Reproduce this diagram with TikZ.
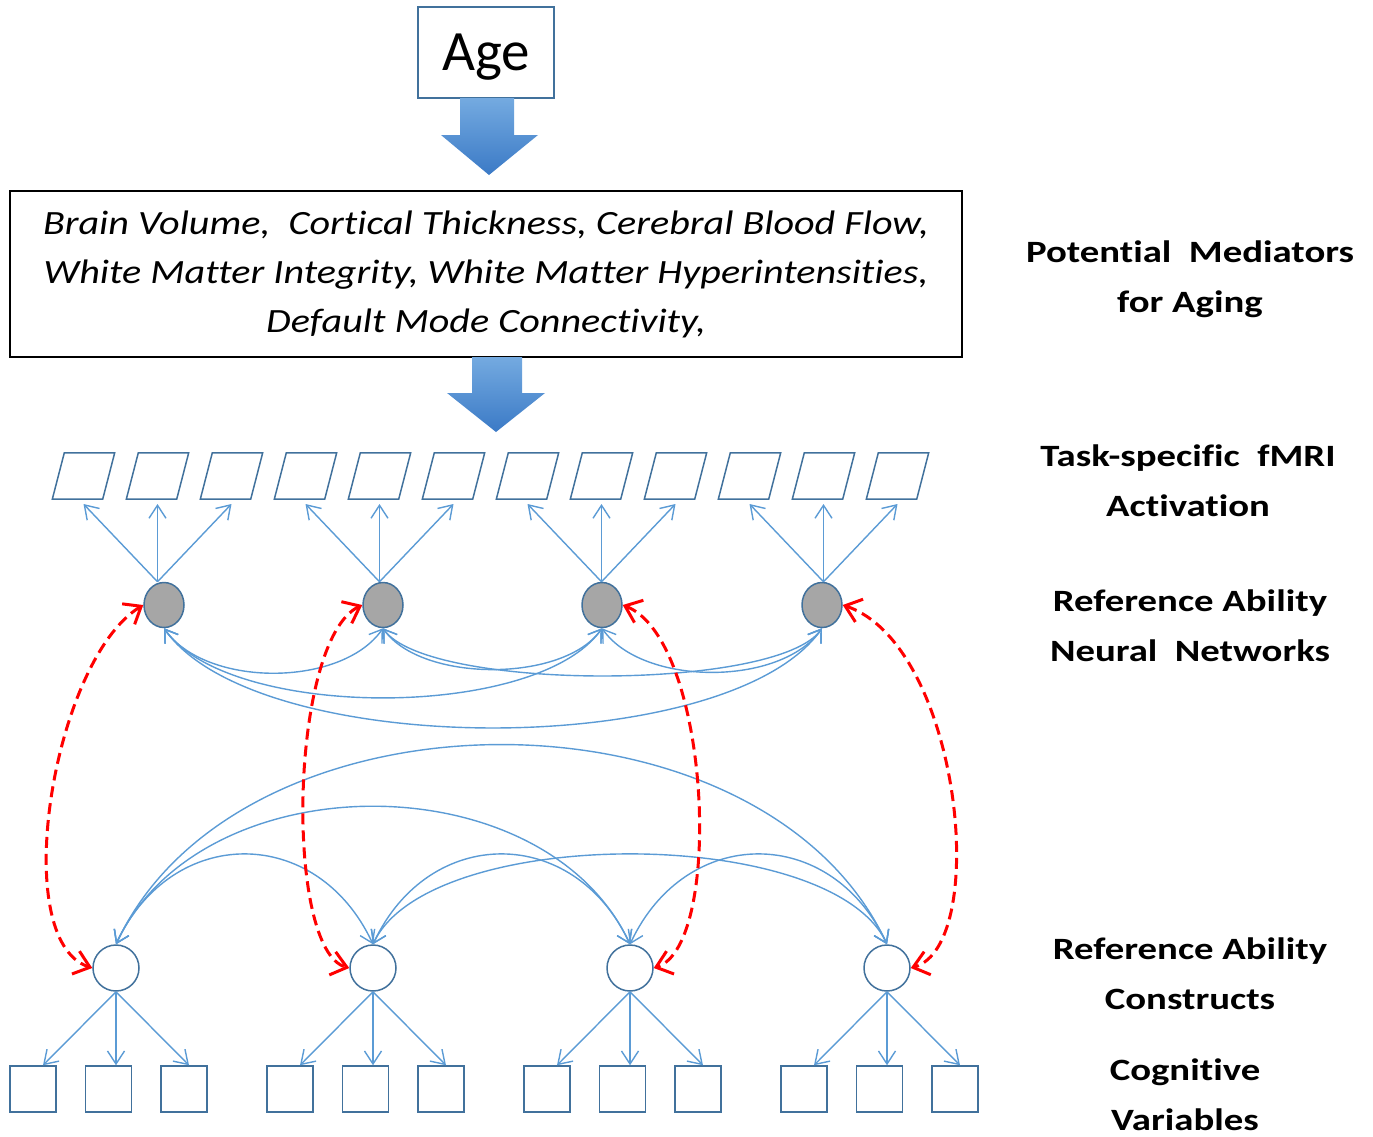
\documentclass[tikz,border=0pt]{standalone}
\usepackage{fontspec}
\setmainfont{Carlito}
\newfontfamily\medfont[FakeStretch=1.18,Ligatures=NoCommon]{Carlito}
\newfontfamily\levelfont[FakeStretch=1.25,Ligatures=NoCommon]{Carlito}
\usetikzlibrary{arrows.meta,shapes.geometric,calc}
\definecolor{lineblue}{HTML}{5B9BD5}
\definecolor{edgeblue}{HTML}{41719C}
\definecolor{latentgray}{HTML}{A6A6A6}
\definecolor{arrowtop}{HTML}{74AAE0}
\definecolor{arrowbot}{HTML}{3B7AC6}
\begin{document}
\begin{tikzpicture}[x=1pt,y=1pt,
  agebox/.style={draw=edgeblue,line width=1.5pt,minimum width=136pt,minimum height=91pt,inner sep=0pt,
    text depth=0pt,font=\fontsize{57}{60}\selectfont},
  medbox/.style={draw=black,line width=1.5pt,minimum width=952pt,minimum height=166pt,inner sep=0pt,
    align=center,font=\medfont\fontsize{34}{49}\selectfont\itshape},
  fmri/.style={rectangle,minimum width=50pt,minimum height=46pt,inner sep=0pt},
  slanted/.style={draw=edgeblue,line width=1.5pt,line join=miter},
  network/.style={ellipse,draw=edgeblue,fill=latentgray,line width=1.5pt,
    minimum width=40pt,minimum height=45pt,inner sep=0pt},
  construct/.style={circle,draw=edgeblue,fill=white,line width=1.5pt,minimum size=46pt,inner sep=0pt},
  measure/.style={rectangle,draw=edgeblue,line width=1.5pt,minimum size=46pt,inner sep=0pt},
  load/.style={draw=lineblue,line width=1.4pt,-{Straight Barb[length=13pt,width=17pt]}},
  cov/.style={draw=lineblue,line width=1.4pt,
    {Straight Barb[length=12pt,width=16pt]}-{Straight Barb[length=12pt,width=16pt]}},
  crosslink/.style={draw=red,line width=3pt,dash pattern=on 11pt off 6pt,
    {Straight Barb[length=15pt,width=24pt]}-{Straight Barb[length=15pt,width=24pt]}},
  sidelabel/.style={font=\levelfont\fontsize{31}{50}\selectfont\bfseries,align=center}
]
\useasboundingbox (0,0) rectangle (1373,-1136);

% age and mediators
\node[agebox] (age) at (486,-52.5) {Age};
\node[medbox] (med) at (486,-274)
  {Brain Volume,\ \ Cortical Thickness, Cerebral Blood Flow,\\
   White Matter Integrity, White Matter Hyperintensities,\\
   Default Mode Connectivity,};

% shaded block arrows
\shade[top color=arrowtop,bottom color=arrowbot]
  (460,-98) -- (514,-98) -- (514,-135) -- (538,-135) -- (489,-175) -- (441,-135) -- (460,-135) -- cycle;
\shade[top color=arrowtop,bottom color=arrowbot]
  (472,-357) -- (522,-357) -- (522,-393) -- (545,-393) -- (496,-432) -- (447,-393) -- (472,-393) -- cycle;

% task-specific fMRI indicators (slanted boxes)
\foreach \i in {1,...,12} {
  \node[fmri] (p\i) at ({83.5+74*(\i-1)},-476) {};
  \draw[slanted] ($(p\i.south west)+(-6,0)$) -- ($(p\i.south east)+(-6,0)$)
    -- ($(p\i.north east)+(6,0)$) -- ($(p\i.north west)+(6,0)$) -- cycle;
}
\coordinate (ptip) at (0,-504);

% reference ability neural networks
\node[network] (e1) at (164,-605) {};
\node[network] (e2) at (383,-605) {};
\node[network] (e3) at (602,-605) {};
\node[network] (e4) at (822,-605) {};

% reference ability constructs
\node[construct] (c1) at (116,-968) {};
\node[construct] (c2) at (373,-968) {};
\node[construct] (c3) at (630,-968) {};
\node[construct] (c4) at (887,-968) {};

% cognitive variables
\foreach \g in {1,...,4}
  \foreach \j in {1,2,3}
    \node[measure] (s\g\j) at ({33+257*(\g-1)+75.5*(\j-1)},-1089) {};

% loadings of networks on fMRI activations
\foreach \k in {1,...,4} {
  \pgfmathtruncatemacro\mid{3*\k-1}
  \foreach \d in {-1,0,1} {
    \pgfmathtruncatemacro\tgt{\mid+\d}
    \draw[load] (p\mid |- e\k.north) -- (p\tgt |- ptip);
  }
}

% loadings of constructs on cognitive variables
\foreach \g in {1,...,4}
  \foreach \j in {1,2,3}
    \draw[load] (c\g.south) -- ($(c\g.south |- s\g\j.north)+({73*(\j-2)},0)$);

% covariances among networks
\draw[cov] (e1.south) to[out=-55,in=-125,looseness=0.85] (e2.south);
\draw[cov] (e1.south) to[out=-55,in=-125,looseness=0.66] (e3.south);
\draw[cov] (e1.south) to[out=-55,in=-125,looseness=0.63] (e4.south);
\draw[cov] (e2.south) to[out=-55,in=-125,looseness=0.78] (e3.south);
\draw[cov] (e2.south) to[out=-55,in=-125,looseness=0.45] (e4.south);
\draw[cov] (e3.south) to[out=-55,in=-125,looseness=0.83] (e4.south);

% covariances among constructs
\draw[cov] (c1.north) to[out=65,in=115,looseness=1.32] (c2.north);
\draw[cov] (c2.north) to[out=65,in=115,looseness=1.32] (c3.north);
\draw[cov] (c3.north) to[out=65,in=115,looseness=1.32] (c4.north);
\draw[cov] (c1.north) to[out=65,in=115,looseness=1.01] (c3.north);
\draw[cov] (c2.north) to[out=65,in=115,looseness=0.66] (c4.north);
\draw[cov] (c1.north) to[out=65,in=115,looseness=0.975] (c4.north);

% network-construct links
\draw[crosslink] (e1.west) .. controls +(-90,-55) and +(-85,28) .. (c1.west);
\draw[crosslink] (e2.west) .. controls +(-73,-35) and +(-65,18) .. (c2.west);
\draw[crosslink] (e3.east) .. controls +(88,-35) and +(70,23) .. (c3.east);
\draw[crosslink] (e4.east) .. controls +(118,-40) and +(80,23) .. (c4.east);

% level labels
\node[sidelabel] (l1) at (1190,-279) {Potential\ \ Mediators\\for Aging};
\node[sidelabel] (l2) at (1188,-481) {Task-specific\ \ fMRI\\Activation};
\node[sidelabel] (l3) at (1190,-626) {Reference Ability\\Neural\ \ Networks};
\node[sidelabel] (l4) at (1190,-974) {Reference Ability\\Constructs};
\node[sidelabel] (l5) at (1185,-1095) {Cognitive\\Variables};
\end{tikzpicture}
\end{document}
